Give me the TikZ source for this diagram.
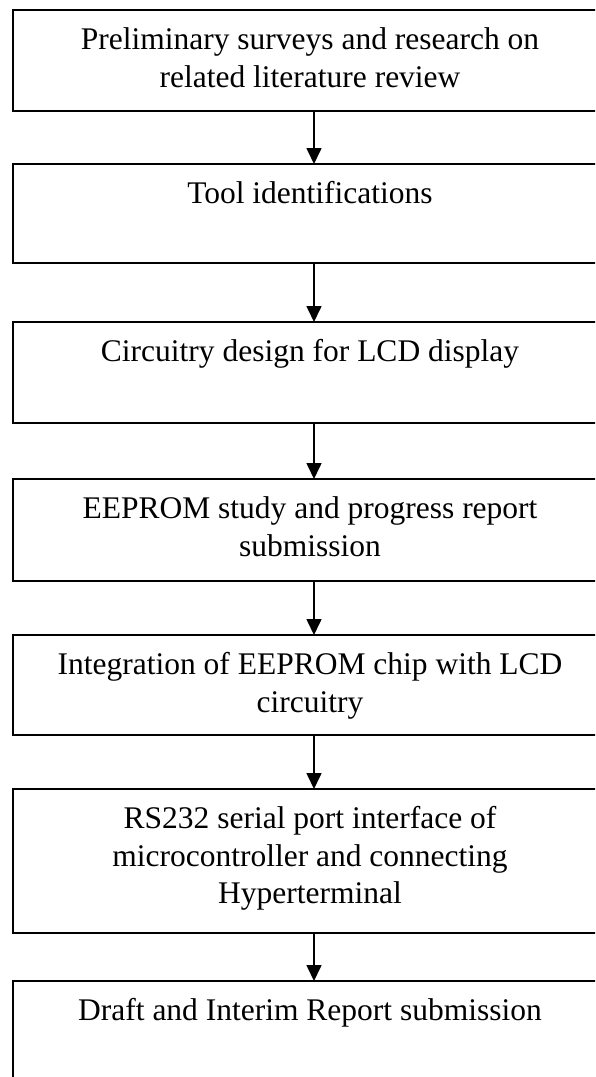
\documentclass[tikz,border=0pt]{standalone}
\usepackage{fontspec}
\setmainfont{Liberation Serif}
\usetikzlibrary{arrows.meta}
\begin{document}
\begin{tikzpicture}[x=1pt,y=-1pt,
  stage/.style={draw, line width=1.6pt, rectangle, minimum width=602pt,
    anchor=north west, inner sep=0pt, outer sep=0pt},
  caption/.style={anchor=north, align=center, inner sep=0pt,
    font=\fontsize{31.5}{37.5}\selectfont},
  flow/.style={line width=1.6pt, -{Triangle[length=16pt,width=15pt]}}]
\newcommand{\firstline}{\rule{0pt}{25pt}}
% page frame
\useasboundingbox (0,0) rectangle (595,1077);
\fill[white] (0,0) rectangle (595,1077);
\clip (0,0) rectangle (595,1077);

% stage boxes (they run past the right and bottom edges)
\node[stage, minimum height=101pt] (b1) at (13,10)  {};
\node[stage, minimum height=99pt]  (b2) at (13,164) {};
\node[stage, minimum height=101pt] (b3) at (13,322) {};
\node[stage, minimum height=102pt] (b4) at (13,479) {};
\node[stage, minimum height=100pt] (b5) at (13,635) {};
\node[stage, minimum height=144pt] (b6) at (13,789) {};
\node[stage, minimum height=140pt] (b7) at (13,981) {};

% captions
\node[caption] (t1) at (310,24.5)  {\firstline Preliminary surveys and research on\\related literature review};
\node[caption] (t2) at (310,178.5) {\firstline Tool identifications};
\node[caption] (t3) at (310,336.5) {\firstline Circuitry design for LCD display};
\node[caption] (t4) at (310,493.5) {\firstline EEPROM study and progress report\\submission};
\node[caption] (t5) at (310,649.5) {\firstline Integration of EEPROM chip with LCD\\circuitry};
\node[caption] (t6) at (310,803.5) {\firstline RS232 serial port interface of\\microcontroller and connecting\\Hyperterminal};
\node[caption] (t7) at (310,995.5) {\firstline Draft and Interim Report submission};

% flow arrows
\draw[flow] (b1.south) -- (b2.north);
\draw[flow] (b2.south) -- (b3.north);
\draw[flow] (b3.south) -- (b4.north);
\draw[flow] (b4.south) -- (b5.north);
\draw[flow] (b5.south) -- (b6.north);
\draw[flow] (b6.south) -- (b7.north);
\end{tikzpicture}
\end{document}
